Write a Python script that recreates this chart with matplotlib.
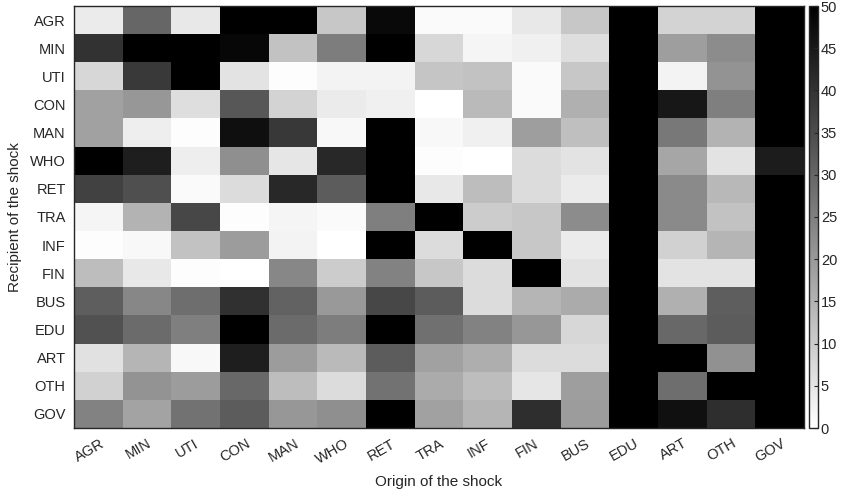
import numpy as np
import matplotlib
matplotlib.use("Agg")
import matplotlib.pyplot as plt
import matplotlib.transforms as mtransforms

plt.rcParams['font.family'] = ['Liberation Sans', 'DejaVu Sans']

sectors = ["AGR", "MIN", "UTI", "CON", "MAN", "WHO", "RET", "TRA",
           "INF", "FIN", "BUS", "EDU", "ART", "OTH", "GOV"]

row_AGR = [4, 30, 4.5, 50, 50, 11, 48, 1, 1, 4.5, 11, 50, 8.5, 8.5, 50]
row_MIN = [40, 50, 50, 48.5, 12, 25.5, 50, 8, 2, 3, 6.5, 50, 19, 22.5, 50]
row_UTI = [8, 38.5, 50, 5.5, 0.5, 2.5, 2.5, 11.5, 12, 1, 11, 50, 2.5, 21, 50]
row_CON = [18.5, 20.5, 6.5, 33, 8.5, 4, 3, 0, 13.5, 1, 15.5, 50, 45.5, 25, 50]
row_MAN = [18.5, 3.5, 0.5, 47, 39, 1.5, 50, 1.5, 3, 19, 12.5, 50, 26.5, 15, 50]
row_WHO = [50, 44, 3.5, 22, 5, 42, 50, 0.5, 0, 7, 5.5, 50, 17.5, 5.5, 44.5]
row_RET = [37, 34.5, 1, 7, 42, 32, 50, 4.5, 13, 7, 4, 50, 23, 14, 50]
row_TRA = [2, 15, 36, 0.5, 2, 1, 25, 50, 10, 11, 22.5, 50, 23, 12, 50]
row_INF = [0.5, 1.5, 12, 19.5, 2.5, 0, 50, 7, 50, 11, 4, 50, 9, 14.5, 50]
row_FIN = [13, 4.5, 0.5, 0, 23.5, 10, 24.5, 11, 7, 50, 5.5, 50, 5.5, 5.5, 50]
row_BUS = [31.5, 23.5, 28.5, 40.5, 30.5, 20, 36, 32, 7, 14.5, 16.5, 50, 15.5, 31.5, 50]
row_EDU = [34, 29, 25, 50, 29, 25.5, 50, 28, 24.5, 20.5, 8, 50, 29.5, 32, 50]
row_ART = [6, 14.5, 1.5, 44, 19.5, 13.5, 32, 18.5, 16, 7, 7, 50, 50, 21.5, 50]
row_OTH = [9, 21, 19.5, 29.5, 13, 7, 27.5, 16.5, 13, 5, 19, 50, 28.5, 50, 50]
row_GOV = [24.5, 18, 27.5, 32, 20.5, 22, 50, 18.5, 14.5, 41, 19.5, 50, 46.5, 41, 50]

data = np.array([row_AGR, row_MIN, row_UTI, row_CON, row_MAN, row_WHO, row_RET,
                 row_TRA, row_INF, row_FIN, row_BUS, row_EDU, row_ART, row_OTH,
                 row_GOV])

cbar_ticks = [0, 5, 10, 15, 20, 25, 30, 35, 40, 45, 50]

fig = plt.figure(figsize=(8.42, 4.99), dpi=100)
W, H = 842, 499
ax = fig.add_axes([74 / W, 1 - 428 / H, (804 - 74) / W, (428 - 6) / H])
cax = fig.add_axes([809 / W, 1 - 428 / H, 9 / W, (428 - 6) / H])

im = ax.imshow(data, cmap='gray_r', vmin=0, vmax=50, aspect='auto',
               interpolation='nearest')
ax.set_xticks(range(len(sectors)))
ax.set_xticklabels(sectors, rotation=30, fontsize=10.5)
ax.set_yticks(range(len(sectors)))
ax.set_yticklabels(sectors, fontsize=10.5)
ax.tick_params(length=0, pad=6, colors='#262626')
offset = mtransforms.ScaledTranslation(-9 / 100, 0, fig.dpi_scale_trans)
for lbl in ax.get_xticklabels():
    lbl.set_transform(lbl.get_transform() + offset)
for s in ax.spines.values():
    s.set_color('#262626')
    s.set_linewidth(1.0)
ax.set_xlabel("Origin of the shock", fontsize=11, color='#262626', labelpad=6)
ax.set_ylabel("Recipient of the shock", fontsize=11, color='#262626', labelpad=6)

cb = fig.colorbar(im, cax=cax, ticks=cbar_ticks)
cb.ax.tick_params(direction='in', length=3, labelsize=10.5, colors='#262626', pad=2)
cb.outline.set_edgecolor('#262626')
cb.outline.set_linewidth(1.0)

fig.savefig("out.png", dpi=100)
